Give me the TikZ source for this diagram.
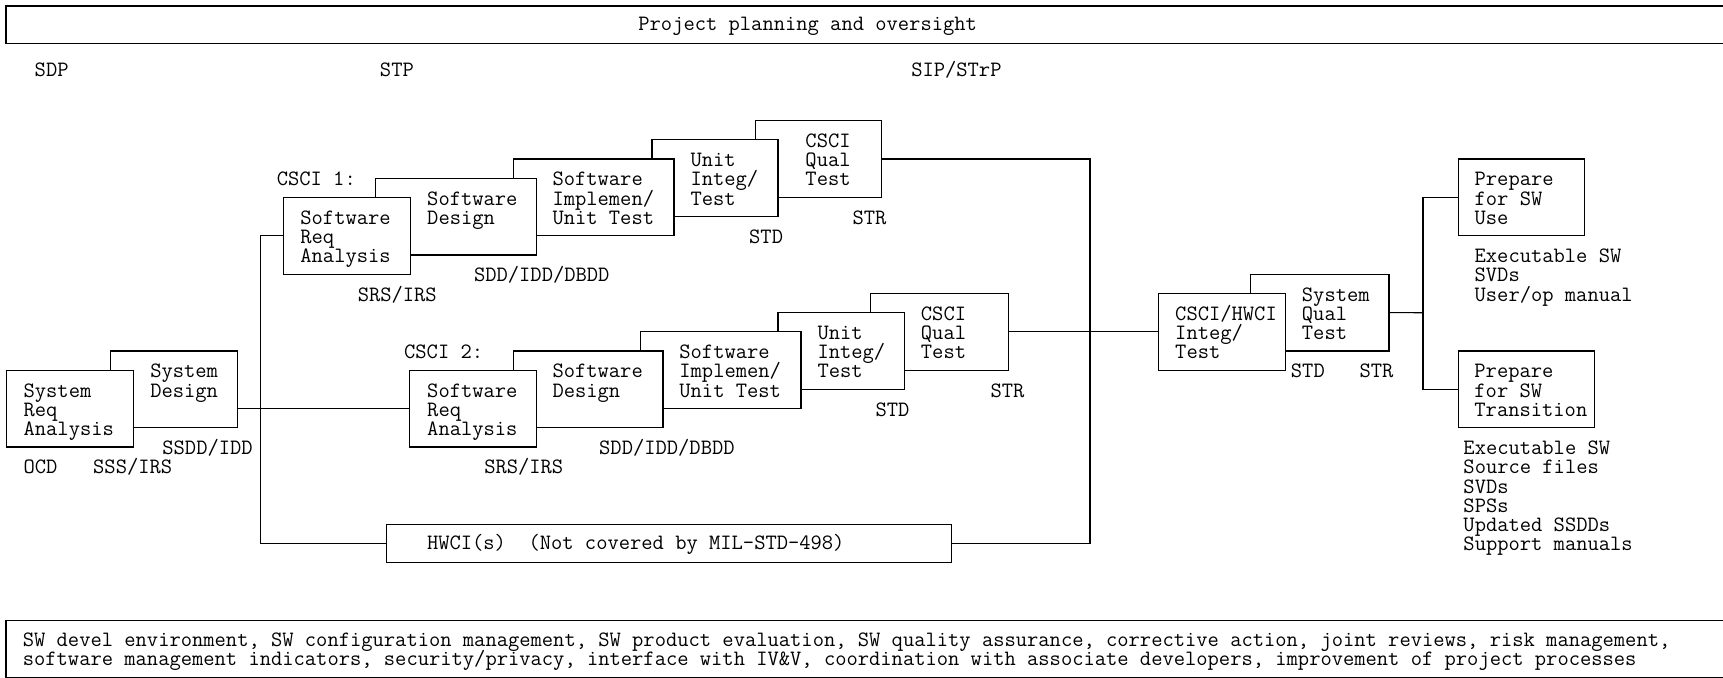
\documentclass[tikz,border=0pt]{standalone}
\usepackage{fontspec}
\newcommand{\mlines}[1]{\vtop{\lineskiplimit=-100pt\relax\let\\\cr\halign{##\hfil\cr#1\crcr}}}
\begin{document}
\begin{tikzpicture}[x=1pt,y=-1pt,
  ln/.style={line width=1.05pt},
  box/.style={draw, line width=1.05pt, fill=white, inner sep=0pt, outer sep=0pt, anchor=north west, minimum height=69.9pt},
  txt/.style={inner sep=0pt, outer sep=0pt, anchor=base west, font=\ttfamily\fontsize{19.94}{17.47}\selectfont}]
\useasboundingbox (0,0) rectangle (1568,617);

% frames top and bottom (open to the right)
\draw[ln] (1568,5.5) -| (5.5,39.4) -- (1568,39.4);
\draw[ln] (1568,564.8) -| (5.5,616.4) -- (1568,616.4);

% system level boxes
\node[box, minimum width=115.5pt] (SysSD) at (100.5,319.44) {};
\node[box, minimum width=115.9pt] (SysSRA) at (5.7,336.91) {};
% CSCI 1
\node[box, minimum width=114.8pt] (CQTa) at (687.2,109.8) {};
\node[box, minimum width=114.7pt] (UITa) at (593.3,127.27) {};
\node[box, minimum width=146pt] (SIUTa) at (467.4,144.74) {};
\node[box, minimum width=146.5pt] (SDa) at (342,162.21) {};
\node[box, minimum width=115.6pt] (SRAa) at (258,179.68) {};
% CSCI 2
\node[box, minimum width=125.7pt] (CQTb) at (791.8,267.03) {};
\node[box, minimum width=115.5pt] (UITb) at (708,284.5) {};
\node[box, minimum width=146pt] (SIUTb) at (583,301.97) {};
\node[box, minimum width=135.9pt] (SDb) at (467.4,319.44) {};
\node[box, minimum width=115pt] (SRAb) at (373,336.91) {};
% integration and delivery
\node[box, minimum width=126pt] (SQT) at (1138,249.56) {};
\node[box, minimum width=115.6pt] (CHI) at (1054.4,267.03) {};
\node[box, minimum width=115pt] (PSU) at (1327,144.74) {};
\node[box, minimum width=124.2pt] (PST) at (1327,319.44) {};
% HWCI
\node[box, minimum width=514.1pt, minimum height=34.5pt] (HW) at (351.9,477.2) {};

% connectors
\coordinate (busL) at (236.9,371.86);
\coordinate (busR) at (991.9,494.45);
\coordinate (busP) at (1295,284.56);
\draw[ln] (SysSD.east |- SRAb.west) -- (SRAb.west);
\draw[ln] (SRAa.west) -| (busL) |- (HW.west);
\draw[ln] (CQTa.east) -| (busR) -- (HW.east);
\draw[ln] (CQTb.east) -- (CHI.west);
\draw[ln] (SQT.east) -- (busP);
\draw[ln] (PSU.west) -| (busP) |- (PST.west);

% header texts
\node[txt, anchor=base] (title) at (735,27.9) {Project planning and oversight};
\node[txt] (sdp) at (31.6,69.2) {SDP};
\node[txt] (stp) at (345.8,69.2) {STP};
\node[txt] (sip) at (829.3,69.2) {SIP/STrP};

% box texts
\node[txt] (tSysSRA) at (21.5,361.31) {\mlines{System\\Req\\Analysis}};
\node[txt] (tSysSD) at (136.8,343.84) {\mlines{System\\Design}};
\node[txt] (tSRAa) at (273.4,204.08) {\mlines{Software\\Req\\Analysis}};
\node[txt] (tSDa) at (388.8,186.61) {\mlines{Software\\Design}};
\node[txt] (tSIUTa) at (502.8,169.14) {\mlines{Software\\Implemen/\\Unit Test}};
\node[txt] (tUITa) at (628.4,151.67) {\mlines{Unit\\Integ/\\Test}};
\node[txt] (tCQTa) at (733,134.2) {\mlines{CSCI\\Qual\\Test}};
\node[txt] (tSRAb) at (388.8,361.31) {\mlines{Software\\Req\\Analysis}};
\node[txt] (tSDb) at (502.8,343.84) {\mlines{Software\\Design}};
\node[txt] (tSIUTb) at (618.3,326.37) {\mlines{Software\\Implemen/\\Unit Test}};
\node[txt] (tUITb) at (744,308.9) {\mlines{Unit\\Integ/\\Test}};
\node[txt] (tCQTb) at (838.1,291.43) {\mlines{CSCI\\Qual\\Test}};
\node[txt] (tCHI) at (1069.5,291.43) {\mlines{CSCI/HWCI\\Integ/\\Test}};
\node[txt] (tSQT) at (1184.8,273.96) {\mlines{System\\Qual\\Test}};
\node[txt] (tPSU) at (1342,169.14) {\mlines{Prepare\\for SW\\Use}};
\node[txt] (tPST) at (1341.8,343.84) {\mlines{Prepare\\for SW\\Transition}};
\node[txt] (tHW) at (388.6,499.7) {HWCI(s)\ \ (Not covered by MIL-STD-498)};

% product labels
\node[txt] (cscia) at (251.9,169.14) {CSCI 1:};
\node[txt] (srsa) at (325.6,273.96) {SRS/IRS};
\node[txt] (sdda) at (431.4,256.49) {SDD/IDD/DBDD};
\node[txt] (stda) at (681.8,221.55) {STD};
\node[txt] (stra) at (775.8,204.08) {STR};
\node[txt] (cscib) at (367.8,326.37) {CSCI 2:};
\node[txt] (srsb) at (440.7,431.19) {SRS/IRS};
\node[txt] (sddb) at (545.3,413.72) {SDD/IDD/DBDD};
\node[txt] (stdb) at (796.8,378.78) {STD};
\node[txt] (strb) at (901.4,361.31) {STR};
\node[txt] (ssdd) at (147.8,413.72) {SSDD/IDD};
\node[txt] (ocd) at (21.5,431.19) {OCD};
\node[txt] (sss) at (84.8,431.19) {SSS/IRS};
\node[txt] (stdc) at (1174.8,343.84) {STD};
\node[txt] (strc) at (1237.3,343.84) {STR};
\node[txt] (outU) at (1342,239.02) {\mlines{Executable SW\\SVDs\\User/op manual}};
\node[txt] (outT) at (1331.8,413.72) {\mlines{Executable SW\\Source files\\SVDs\\SPSs\\Updated SSDDs\\Support manuals}};

% bottom text
\node[txt, font=\ttfamily\fontsize{19.94}{17.3}\selectfont] (misc) at (20.8,588.6) {\mlines{SW devel environment, SW configuration management, SW product evaluation, SW quality assurance, corrective action, joint reviews, risk management,\\software management indicators, security/privacy, interface with IV\&V, coordination with associate developers, improvement of project processes}};
\end{tikzpicture}
\end{document}
